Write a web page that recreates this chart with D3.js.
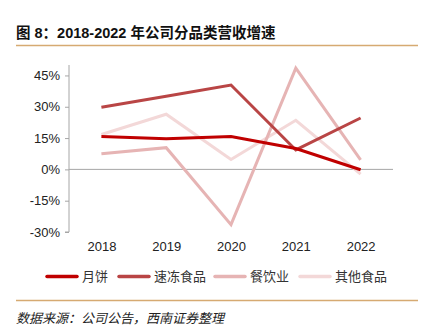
<!DOCTYPE html>
<html>
<head>
<meta charset="utf-8">
<script src="https://cdn.jsdelivr.net/npm/d3@7"></script>
<style>
  body { margin: 0; background: #fff; }
  svg { display: block; }
</style>
</head>
<body>
<div id="wrapper"></div>
<script>
  // data

  const years = ["2018", "2019", "2020", "2021", "2022"];
  const yTicks = [-30, -15, 0, 15, 30, 45];

  const mooncake = [15.8, 14.7, 15.7, 10.0, -0.2];
  const frozenFood = [29.8, 35.0, 40.4, 9.3, 24.6];
  const catering = [7.5, 10.4, -26.5, 48.5, 4.6];
  const otherFood = [16.7, 26.4, 4.7, 23.5, -2.3];

  const series = [
    { name: "月饼", values: mooncake, color: "#c00000" },
    { name: "速冻食品", values: frozenFood, color: "#b94545" },
    { name: "餐饮业", values: catering, color: "#e6b4b4" },
    { name: "其他食品", values: otherFood, color: "#f3d8d8" }
  ];

  // dimensions

  const dms = {
    width: 428,
    height: 332,
    margins: { top: 65, right: 35, bottom: 100, left: 69 }
  };
  dms.innerWidth = dms.width - dms.margins.left - dms.margins.right;
  dms.innerHeight = dms.height - dms.margins.top - dms.margins.bottom;

  const svg = d3.select("#wrapper")
    .append("svg")
      .attr("width", dms.width)
      .attr("height", dms.height);

  // title and rules

  svg.append("text")
    .attr("x", 16)
    .attr("y", 38)
    .attr("font-family", "'Liberation Sans', 'Noto Sans CJK SC', sans-serif")
    .attr("font-size", 14.5)
    .attr("font-weight", "bold")
    .attr("fill", "#111")
    .text("图 8：2018-2022 年公司分品类营收增速");

  svg.append("line")
    .attr("x1", 16).attr("x2", 418)
    .attr("y1", 45.5).attr("y2", 45.5)
    .attr("stroke", "#d6aa72")
    .attr("stroke-width", 1.5);

  svg.append("line")
    .attr("x1", 16).attr("x2", 418)
    .attr("y1", 300.5).attr("y2", 300.5)
    .attr("stroke", "#d6aa72")
    .attr("stroke-width", 1.5);

  svg.append("text")
    .attr("x", 16)
    .attr("y", 323)
    .attr("font-family", "'Noto Sans CJK SC', serif")
    .attr("font-size", 13)
    .attr("font-style", "italic")
    .attr("fill", "#222")
    .text("数据来源：公司公告，西南证券整理");

  const inner = svg.append("g")
    .attr("transform", `translate(${dms.margins.left},${dms.margins.top})`);

  // scales

  const xScale = d3.scalePoint()
    .domain(years)
    .range([0, dms.innerWidth])
    .padding(0.5);

  const yScale = d3.scaleLinear()
    .domain([-30, 50])
    .range([dms.innerHeight, 0]);

  // axes

  const yAxis = inner.append("g")
    .call(d3.axisLeft(yScale)
      .tickValues(yTicks)
      .tickSize(4)
      .tickPadding(5)
      .tickFormat(d => d + "%"));
  yAxis.select(".domain").attr("stroke", "#a6a6a6").attr("d", `M-4,${dms.innerHeight}H0V0`);
  yAxis.selectAll(".tick line").attr("stroke", "#a6a6a6");
  yAxis.selectAll(".tick text")
    .attr("font-family", "'Liberation Sans', Arial, sans-serif")
    .attr("font-size", 13)
    .attr("fill", "#222");

  inner.append("line")
    .attr("x1", 0).attr("x2", dms.innerWidth)
    .attr("y1", yScale(0)).attr("y2", yScale(0))
    .attr("stroke", "#a6a6a6")
    .attr("stroke-width", 1);

  const xAxis = inner.append("g")
    .attr("transform", `translate(0,${dms.innerHeight})`)
    .call(d3.axisBottom(xScale).tickSize(0).tickPadding(10));
  xAxis.select(".domain").remove();
  xAxis.selectAll(".tick text")
    .attr("font-family", "'Liberation Sans', Arial, sans-serif")
    .attr("font-size", 13)
    .attr("fill", "#222");

  // lines

  const lineGenerator = d3.line()
    .x((d, i) => xScale(years[i]))
    .y(d => yScale(d));

  inner.selectAll(".series")
    .data(series.slice().reverse())
    .join("path")
      .attr("class", "series")
      .attr("d", d => lineGenerator(d.values))
      .attr("fill", "none")
      .attr("stroke", d => d.color)
      .attr("stroke-width", 3)
      .attr("stroke-linejoin", "miter");

  // legend

  const legendX = [47, 119, 215, 300];
  const legendY = 276.5;

  const legend = svg.append("g")
    .selectAll("g")
    .data(series)
    .join("g")
      .attr("transform", (d, i) => `translate(${legendX[i]},${legendY})`);

  legend.append("line")
    .attr("x1", 0).attr("x2", 30)
    .attr("stroke", d => d.color)
    .attr("stroke-width", 3.5)
    .attr("stroke-linecap", "round");

  legend.append("text")
    .attr("x", 35)
    .attr("dy", "0.36em")
    .attr("font-family", "'Noto Sans CJK SC', sans-serif")
    .attr("font-size", 13)
    .attr("fill", "#333")
    .text(d => d.name);
</script>
</body>
</html>
